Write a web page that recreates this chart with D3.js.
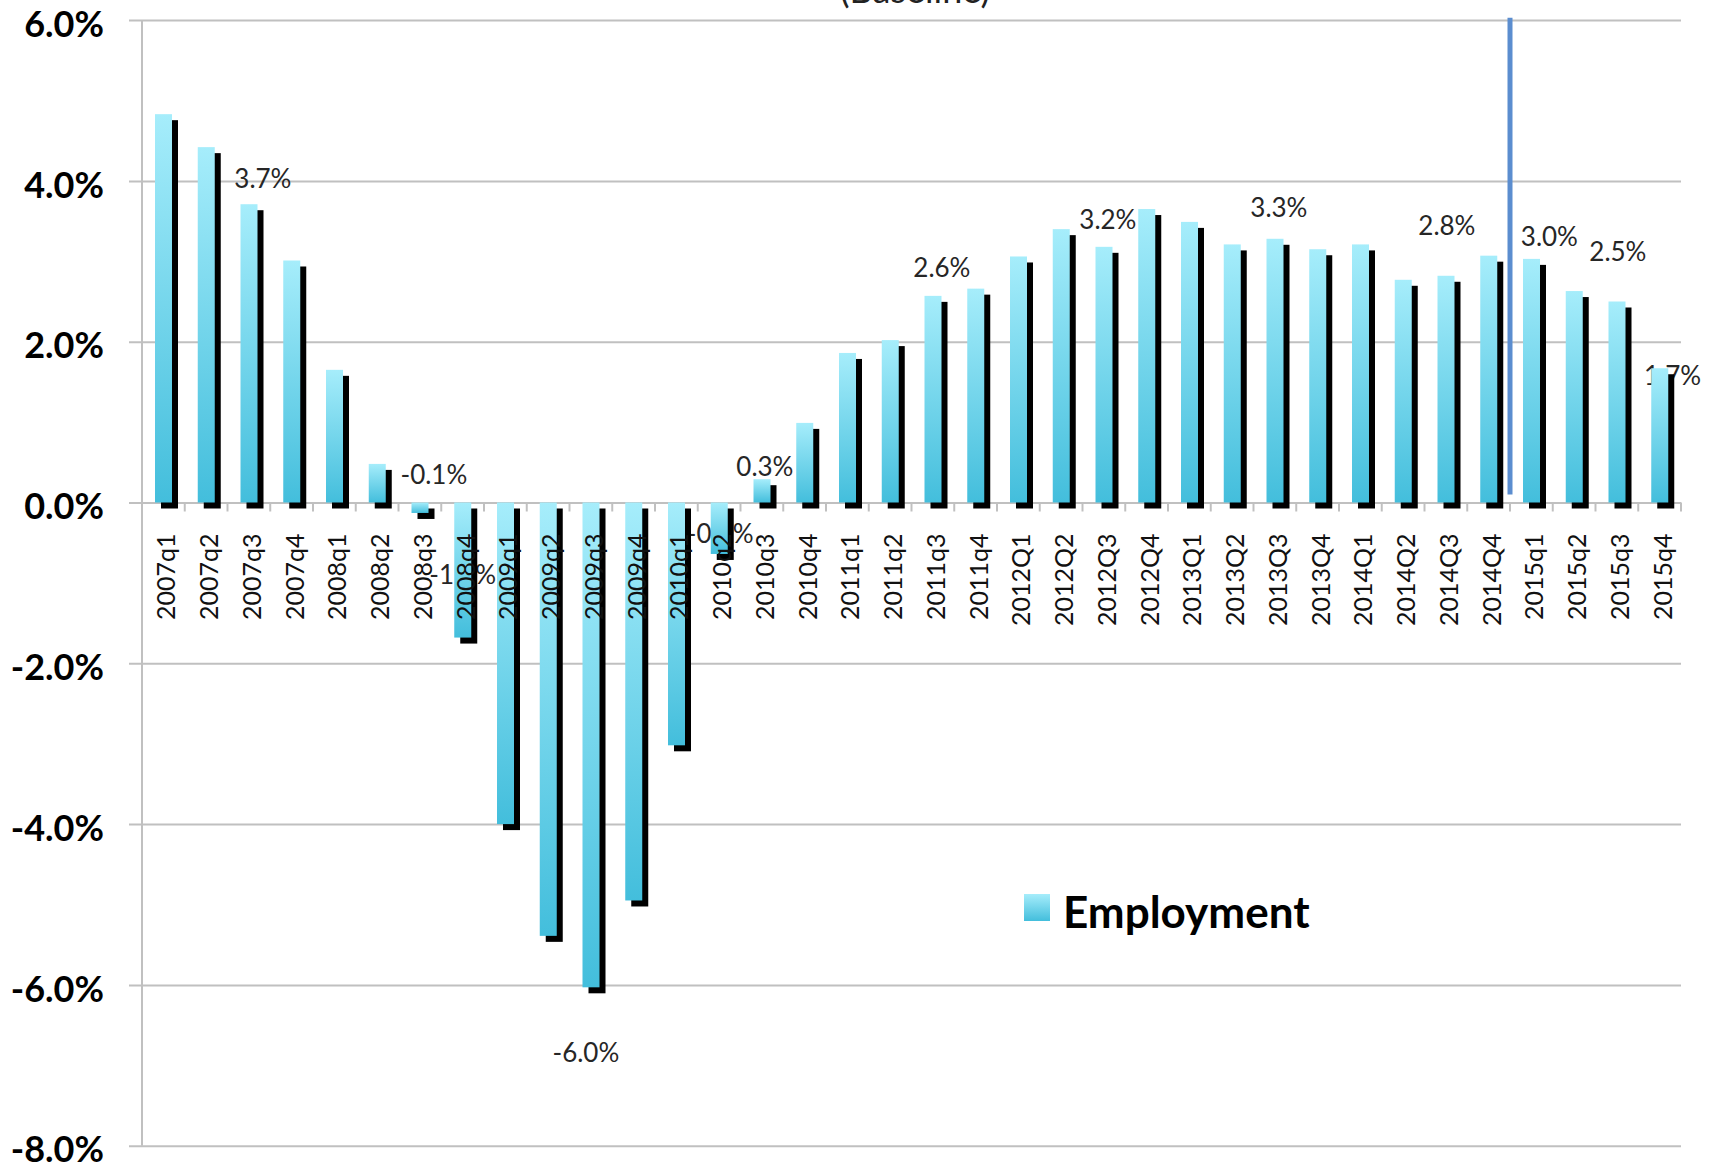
<!DOCTYPE html>
<html>
<head>
<meta charset="utf-8">
<script src="https://d3js.org/d3.v7.min.js"></script>
<style>
  body { margin: 0; background: #fff; }
  text { font-family: Lato, "Open Sans", sans-serif; }
</style>
</head>
<body>
<svg id="chart" width="1713" height="1166"></svg>
<script>
// quarters on the x axis
var quarters = ["2007q1", "2007q2", "2007q3", "2007q4", "2008q1", "2008q2", "2008q3", "2008q4",
    "2009q1", "2009q2", "2009q3", "2009q4", "2010q1", "2010q2", "2010q3", "2010q4",
    "2011q1", "2011q2", "2011q3", "2011q4", "2012Q1", "2012Q2", "2012Q3", "2012Q4",
    "2013Q1", "2013Q2", "2013Q3", "2013Q4", "2014Q1", "2014Q2", "2014Q3", "2014Q4",
    "2015q1", "2015q2", "2015q3", "2015q4"];

// employment growth, percent
var employment = [4.83, 4.42, 3.71, 3.01, 1.65, 0.48, -0.13, -1.68,
    -4.0, -5.39, -6.03, -4.95, -3.02, -0.64, 0.29, 0.99,
    1.86, 2.02, 2.57, 2.66, 3.06, 3.40, 3.18, 3.65,
    3.49, 3.21, 3.28, 3.15, 3.21, 2.77, 2.82, 3.07,
    3.03, 2.63, 2.50, 1.67];

var yTicks = [-8, -6, -4, -2, 0, 2, 4, 6];

// quarters that carry a data label
var labelQuarters = ["2007q3", "2008q3", "2008q4", "2009q3", "2010q2", "2010q3",
    "2011q3", "2012Q3", "2013Q3", "2014Q3", "2015q1", "2015q3", "2015q4"];

var forecastStart = "2015q1";
var seriesName = "Employment";
var title = "(Baseline)";

// hand placed label nudges (px), same order as labelQuarters
var labelNudge = [[14, -26], [14, -38], [0, -63], [-5, 65], [1, -20], [3, -13],
    [9, -28], [4, -27], [4, -31], [1, -50], [18, -22], [1, -50], [13, 7]];

var fmt = d3.formatLocale({ decimal: ".", thousands: ",", grouping: [3], currency: ["", ""], minus: "-" })
    .format(".1f");
function pct(v) { return fmt(v) + "%"; }

var svg = d3.select("svg");
var left = 142, right = 1681;

var x = d3.scaleBand()
    .domain(quarters)
    .range([left, right])
    .padding(0);

var y = d3.scaleLinear()
    .domain([-8, 6])
    .range([1145.7, 20.1]);

var bw = x.bandwidth();
var barOff = 13, barW = 17, shadow = 6;

var defs = svg.append("defs");
var grad = defs.append("linearGradient")
    .attr("id", "cyan")
    .attr("x1", 0).attr("y1", 0).attr("x2", 0).attr("y2", 1);
grad.append("stop").attr("offset", "0%").attr("stop-color", "#a6edfb");
grad.append("stop").attr("offset", "100%").attr("stop-color", "#43bedc");

// title (mostly cropped at top)
svg.append("text")
    .attr("x", 915)
    .attr("y", 3)
    .attr("text-anchor", "middle")
    .style("font-size", "36px")
    .style("fill", "#222")
    .text(title);

// y axis with gridlines
var yAxis = svg.append("g")
    .attr("transform", "translate(129,0)")
    .call(d3.axisLeft(y)
        .tickValues(yTicks)
        .tickSizeInner(-(right - 129))
        .tickSizeOuter(0)
        .tickPadding(25)
        .tickFormat(pct));
yAxis.select(".domain").remove();
yAxis.selectAll(".tick line")
    .attr("stroke", "#c0c0c0")
    .attr("stroke-width", 2);
yAxis.selectAll(".tick text")
    .attr("dy", "0.45em")
    .style("font-size", "36px")
    .style("font-weight", "bold")
    .style("fill", "#000");

svg.append("line")
    .attr("x1", left).attr("x2", left)
    .attr("y1", y(6)).attr("y2", y(-8))
    .attr("stroke", "#c0c0c0")
    .attr("stroke-width", 2);

// category boundary ticks under the zero line
var bounds = quarters.map(function (d) { return x(d); }).concat([right]);
svg.append("g").selectAll("line")
    .data(bounds)
    .enter().append("line")
    .attr("x1", function (d) { return d; })
    .attr("x2", function (d) { return d; })
    .attr("y1", y(0))
    .attr("y2", y(0) + 9)
    .attr("stroke", "#c0c0c0")
    .attr("stroke-width", 2);

// data labels (drawn under the bars, like the original)
svg.append("g").selectAll("text")
    .data(labelQuarters)
    .enter().append("text")
    .attr("x", function (d, i) { return x(d) + bw / 2 + labelNudge[i][0]; })
    .attr("y", function (d, i) { return y(employment[quarters.indexOf(d)]) + labelNudge[i][1]; })
    .attr("dy", "0.36em")
    .attr("text-anchor", "middle")
    .style("font-size", "26px")
    .style("fill", "#262626")
    .text(function (d) { return pct(employment[quarters.indexOf(d)]); });

var bars = svg.append("g");

// black drop shadow
bars.selectAll("rect.shadow")
    .data(employment)
    .enter().append("rect")
    .attr("class", "shadow")
    .attr("x", function (d, i) { return x(quarters[i]) + barOff + shadow; })
    .attr("y", function (d) { return y(Math.max(d, 0)) + shadow; })
    .attr("width", barW)
    .attr("height", function (d) { return Math.abs(y(d) - y(0)); })
    .attr("fill", "#000");

bars.selectAll("rect.bar")
    .data(employment)
    .enter().append("rect")
    .attr("class", "bar")
    .attr("x", function (d, i) { return x(quarters[i]) + barOff; })
    .attr("y", function (d) { return y(Math.max(d, 0)); })
    .attr("width", barW)
    .attr("height", function (d) { return Math.abs(y(d) - y(0)); })
    .attr("fill", "url(#cyan)");

// rotated quarter labels
var xAxis = svg.append("g")
    .attr("transform", "translate(0," + y(0) + ")")
    .call(d3.axisBottom(x).tickSize(0));
xAxis.select(".domain").remove();
xAxis.selectAll(".tick text")
    .attr("transform", "rotate(-90)")
    .attr("x", -31)
    .attr("y", 3)
    .attr("dy", "0.36em")
    .attr("text-anchor", "end")
    .style("font-size", "25px")
    .style("fill", "#111");

// forecast divider
svg.append("line")
    .attr("x1", x(forecastStart)).attr("x2", x(forecastStart))
    .attr("y1", y(6.03)).attr("y2", y(0.1))
    .attr("stroke", "#5b8dcf")
    .attr("stroke-width", 5);

// legend
var legend = svg.append("g").attr("transform", "translate(1024,894)");
legend.append("rect")
    .attr("width", 26)
    .attr("height", 27)
    .attr("fill", "url(#cyan)");
legend.append("text")
    .attr("x", 39)
    .attr("y", 34)
    .style("font-size", "44px")
    .style("font-weight", "bold")
    .style("fill", "#000")
    .text(seriesName);
</script>
</body>
</html>
